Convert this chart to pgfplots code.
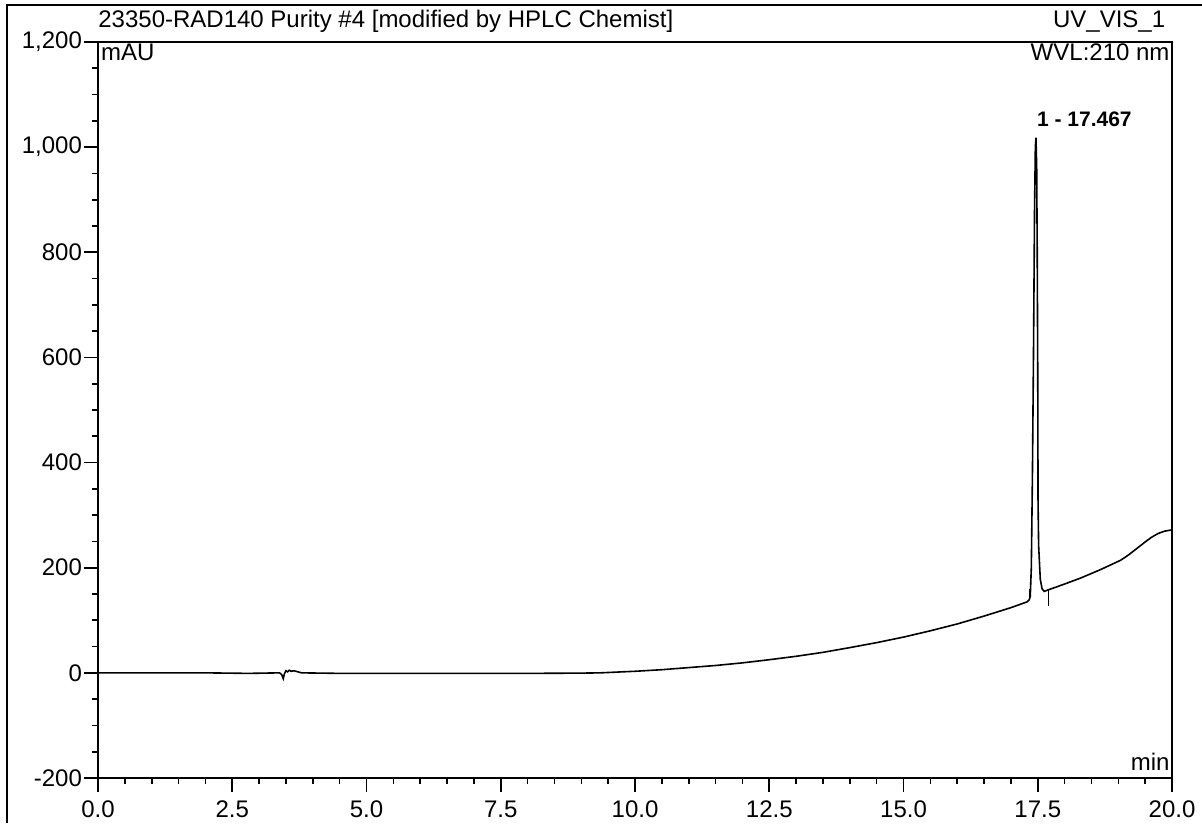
\documentclass[border=0pt]{standalone}
\usepackage{fontspec}
\setmainfont{Liberation Sans}
\usepackage{pgfplots}
\pgfplotsset{compat=1.18}
\begin{document}
\begin{tikzpicture}[x=0.5pt,y=0.5pt]
\useasboundingbox (0,0) rectangle (1202,823);
\draw[line width=0.8pt] (7,0) -- (7,818) -- (1202,818);
\begin{axis}[
  at={(49pt,22.5pt)}, anchor=south west,
  scale only axis, width=537pt, height=368pt,
  xmin=0, xmax=20, ymin=-200, ymax=1200,
  axis line style={line width=0.9pt},
  tick pos=left, tick align=outside,
  xtick={0,2.5,5,7.5,10,12.5,15,17.5,20},
  xticklabels={0.0,2.5,5.0,7.5,10.0,12.5,15.0,17.5,20.0},
  ytick={-200,0,200,400,600,800,1000,1200},
  yticklabels={-200,0,200,400,600,800,{1,000},{1,200}},
  minor x tick num=4, minor y tick num=3,
  major tick length=7pt, minor tick length=3pt,
  every tick/.style={black, line width=0.8pt},
  ticklabel style={font=\fontsize{12}{14}\selectfont},
  xticklabel style={yshift=-1pt},
  yticklabel style={xshift=2.5pt},
  clip=false,
]
\addplot[black, line width=0.8pt] coordinates {
(0,0) (1,0) (2,0) (2.8,-1) (3.38,0) (3.42,-3) (3.45,-11) (3.47,-2) (3.50,4) (3.53,2) (3.56,5) (3.60,3) (3.65,4) (3.72,2) (3.79,0)
(4.5,-1) (5,-1) (6,-1) (7,-1) (8,-1) (9,-0.5) (9.35,0) (10,3) (10.5,6) (11,10) (11.5,14) (12,19) (12.5,25) (13,31.5) (13.5,39)
(14,48) (14.5,57.5) (15,68) (15.5,80) (16,93) (16.5,108) (17,124) (17.3,135) (17.34,139)
(17.36,145) (17.38,200) (17.40,370) (17.42,600) (17.44,880) (17.455,1000) (17.467,1018) (17.48,960) (17.49,800) (17.50,560)
(17.505,330) (17.516,242) (17.547,178) (17.58,160) (17.62,155) (17.70,158) (18.0,169) (18.29,180) (18.66,196)
(19.04,214) (19.2,225) (19.35,237) (19.5,249) (19.62,258) (19.74,265) (19.86,269.5) (20,272)
};
\addplot[black, line width=0.6pt] coordinates {(17.34,140) (17.34,160)};
\addplot[black, line width=0.6pt] coordinates {(17.70,158) (17.70,128)};
\node[anchor=base west, font=\fontsize{12}{14}\selectfont, inner sep=0pt] at (axis cs:0.0,1228) {23350-RAD140 Purity \#4 [modified by HPLC Chemist]};
\node[anchor=base east, font=\fontsize{12}{14}\selectfont, inner sep=0pt] at (axis cs:19.88,1228) {UV\_VIS\_1};
\node[anchor=base west, font=\fontsize{12}{14}\selectfont, inner sep=0pt] at (axis cs:0.05,1165) {mAU};
\node[anchor=base east, font=\fontsize{12}{14}\selectfont, inner sep=0pt] at (axis cs:19.96,1165) {WVL:210 nm};
\node[anchor=base east, font=\fontsize{12}{14}\selectfont, inner sep=0pt] at (axis cs:19.96,-185) {min};
\node[anchor=base west, font=\bfseries\fontsize{10.5}{12.5}\selectfont, inner sep=0pt] at (axis cs:17.48,1040) {1 - 17.467};
\end{axis}
\end{tikzpicture}
\end{document}
